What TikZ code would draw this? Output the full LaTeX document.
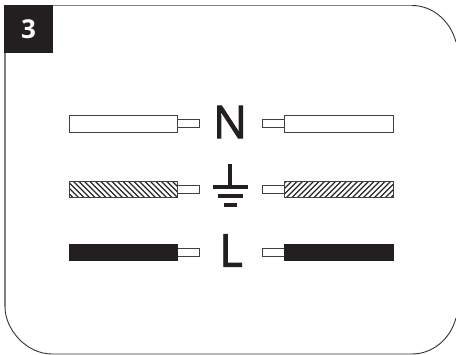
\documentclass[tikz,border=0pt]{standalone}
\usepackage{fontspec}
\setmainfont{Open Sans}
\newfontfamily\wirefont[FakeBold=2]{Open Sans}
\usetikzlibrary{positioning}
\definecolor{tagblack}{HTML}{231F20}
\tikzset{
	x=1pt, y=-1pt,
	frameline/.style={draw=black!50, line width=1.6pt},
	framecurve/.style={draw=black!80, line width=0.9pt},
	jacket/.style={draw=black!75, line width=1.0pt, fill=white},
	jacketlive/.style={draw=tagblack, line width=1.0pt, fill=tagblack},
	stub/.style={draw=black!75, line width=1.0pt, fill=white},
	hatchline/.style={line width=1.4pt, black!85},
	earthbar/.style={draw=tagblack, line width=3.6pt},
	wirelabel/.style={text=tagblack, font=\wirefont\fontsize{45}{45}\selectfont, inner sep=0pt},
}
\begin{document}
\begin{tikzpicture}
	\useasboundingbox (0,0) rectangle (456,355);
	% frame
	\draw[frameline] (5,5.5) -- (412,5.5);
	\draw[frameline] (5,5.5) -- (5,307);
	\draw[framecurve] (412,5.5) .. controls (432,5.5) and (450,20) .. (456,42);
	\draw[framecurve] (5,307) .. controls (5,329) and (26,354) .. (52,354)
		-- (412,354) .. controls (432,354) and (450,340) .. (456,318);
	\node[fill=tagblack, text=white, minimum width=49pt, minimum height=48pt, inner sep=0pt,
		font=\bfseries\fontsize{26}{26}\selectfont] (tag) at (28.5,29) {3};
	% left wires
	\draw[stub] (177,120) rectangle (199,128);
	\draw[jacket] (69,116) rectangle (177,132.5);
	\draw[stub] (177,186) rectangle (199,194);
	\begin{scope}
		\clip (69,181.5) rectangle (177,198);
		\foreach \i in {0,...,24}
			\draw[hatchline] (48+5.5*\i,178) -- (48+5.5*\i+22,200);
	\end{scope}
	\draw[jacket, fill=none] (69,181.5) rectangle (177,198);
	\draw[stub] (177,248.5) rectangle (199,256.5);
	\draw[jacketlive] (69,244.5) rectangle (177,261);
	% right wires
	\draw[stub] (262,120) rectangle (284,128);
	\draw[jacket] (284,116) rectangle (393,132.5);
	\draw[stub] (262,186) rectangle (284,194);
	\begin{scope}
		\clip (284,181.5) rectangle (393,198);
		\foreach \i in {0,...,24}
			\draw[hatchline] (262+5.5*\i+22,178) -- (262+5.5*\i,200);
	\end{scope}
	\draw[jacket, fill=none] (284,181.5) rectangle (393,198);
	\draw[stub] (262,248.5) rectangle (284,256.5);
	\draw[jacketlive] (284,244.5) rectangle (393,261);
	% labels
	\node[wirelabel] (labelN) at (230,122) {N};
	\node[wirelabel] (labelL) at (231,250.5) {L};
	% earth
	\draw[earthbar] (230,164) -- (230,187);
	\draw[earthbar] (213,187) -- (248,187);
	\draw[earthbar] (218,196) -- (243,196);
	\draw[earthbar] (224,205) -- (237,205);
\end{tikzpicture}
\end{document}
